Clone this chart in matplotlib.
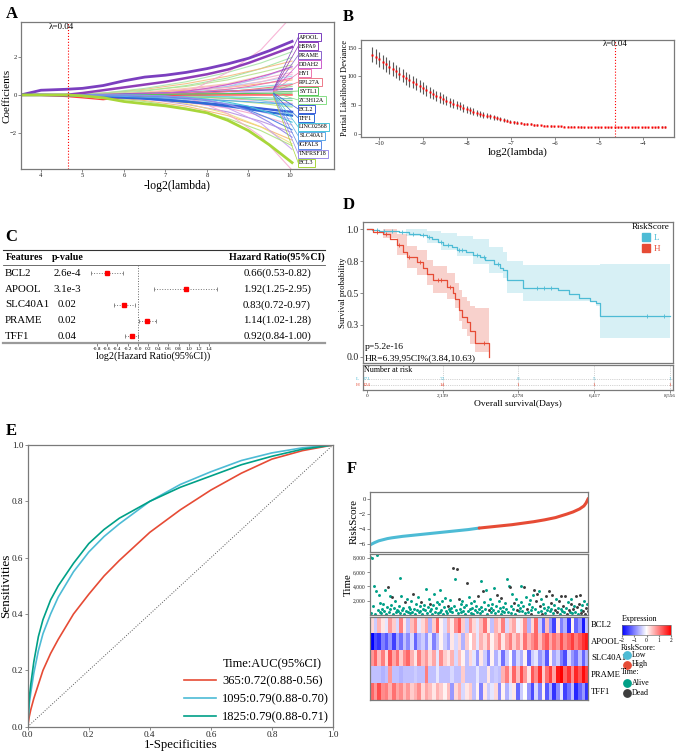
import numpy as np
import matplotlib
matplotlib.use('Agg')
import matplotlib.pyplot as plt
from matplotlib.colors import LinearSegmentedColormap
from matplotlib.patches import Patch
from matplotlib.lines import Line2D
from matplotlib.ticker import FuncFormatter
from matplotlib.transforms import blended_transform_factory

plt.rcParams['font.family'] = ['Liberation Serif', 'DejaVu Serif']

# ---------------- data ----------------
# A: lasso coefficient paths (-log2 lambda knots)
LASSO_KNOTS = [3.52, 4.0, 4.6, 5.0, 5.5, 6.0, 6.5, 7.0, 7.5, 8.0, 8.5, 9.0, 9.5, 10.05]
LASSO_GENES = ['APOOL', 'HSPA9', 'PRAME', 'DDAH2', 'HYI', 'RPL27A', 'SYTL1', 'ZC3H12A',
               'BCL2', 'TFF1', 'LINC02568', 'SLC40A1', 'IGFALS', 'TNFRSF18', 'BCL3']
LASSO_PATHS = [
    [0, 0.25, 0.3, 0.35, 0.5, 0.75, 0.95, 1.05, 1.2, 1.4, 1.65, 1.95, 2.35, 2.85],
    [0, 0, 0, 0.1, 0.25, 0.4, 0.55, 0.7, 0.9, 1.1, 1.35, 1.7, 2.1, 2.55],
    [0, 0, 0, 0, 0.02, 0.05, 0.08, 0.1, 0.13, 0.17, 0.2, 0.23, 0.27, 0.32],
    [0, 0, 0, 0, 0, 0.02, 0.05, 0.1, 0.2, 0.35, 0.55, 0.8, 1.1, 1.5],
    [0, 0, 0, 0, 0, 0, 0.02, 0.05, 0.1, 0.2, 0.3, 0.45, 0.65, 0.9],
    [0, 0, 0, 0, 0, 0, 0, 0.02, 0.05, 0.1, 0.18, 0.28, 0.4, 0.55],
    [0, 0, 0, 0, 0, 0.01, 0.02, 0.03, 0.05, 0.06, 0.07, 0.08, 0.09, 0.1],
    [0, 0, 0, 0, -0.01, -0.03, -0.05, -0.08, -0.1, -0.13, -0.17, -0.21, -0.25, -0.3],
    [0, 0, -0.02, -0.05, -0.1, -0.15, -0.2, -0.28, -0.36, -0.45, -0.55, -0.65, -0.77, -0.9],
    [0, 0, 0, -0.02, -0.05, -0.1, -0.17, -0.25, -0.35, -0.47, -0.6, -0.75, -0.92, -1.1],
    [0, 0, 0, 0, 0, 0, -0.02, -0.06, -0.12, -0.22, -0.38, -0.6, -0.95, -1.45],
    [0, 0, 0, -0.02, -0.05, -0.08, -0.12, -0.16, -0.2, -0.25, -0.3, -0.36, -0.43, -0.5],
    [0, 0, 0, 0, 0, -0.02, -0.05, -0.1, -0.18, -0.3, -0.5, -0.8, -1.25, -1.85],
    [0, 0, 0, 0, 0, 0, -0.02, -0.06, -0.14, -0.28, -0.5, -0.85, -1.45, -2.25],
    [0, 0, 0, -0.05, -0.15, -0.35, -0.47, -0.58, -0.75, -0.95, -1.35, -1.9, -2.65, -3.6],
]
LASSO_DIP = [0, -0.02, -0.08, -0.15, -0.25, -0.12, -0.05, -0.02, 0, 0, 0, 0, 0, 0]
THIN_KNOTS = [3.52, 4.6, 5.5, 6.5, 7.5, 8.5, 9.3, 10.05]
THIN_PATHS = [
    [0, 0, 0.05, 0.2, 0.5, 0.9, 1.4, 2.0],
    [0, 0, 0.1, 0.3, 0.6, 1.0, 1.4, 1.8],
    [0, 0.02, 0.1, 0.25, 0.45, 0.8, 1.2, 1.6],
    [0, 0, 0.05, 0.15, 0.35, 0.6, 1.0, 1.4],
    [0, 0, 0, 0.1, 0.3, 0.55, 0.85, 1.2],
    [0, 0, 0, 0.05, 0.2, 0.45, 0.7, 1.0],
    [0, 0, 0.02, 0.1, 0.25, 0.4, 0.6, 0.8],
    [0, 0, 0, 0.05, 0.15, 0.3, 0.45, 0.6],
    [0, 0, 0, 0, 0.1, 0.2, 0.3, 0.45],
    [0, 0, 0, 0.02, 0.05, 0.1, 0.15, 0.2],
    [0, 0, 0, 0, -0.05, -0.1, -0.15, -0.2],
    [0, 0, 0, -0.05, -0.1, -0.2, -0.3, -0.45],
    [0, 0, 0, -0.05, -0.15, -0.3, -0.45, -0.65],
    [0, 0, -0.05, -0.1, -0.25, -0.45, -0.7, -1.0],
    [0, 0, 0, -0.1, -0.3, -0.55, -0.9, -1.3],
    [0, -0.02, -0.1, -0.2, -0.4, -0.7, -1.1, -1.6],
    [0, 0, -0.05, -0.2, -0.5, -0.9, -1.4, -2.0],
    [0, 0, -0.1, -0.3, -0.6, -1.1, -1.7, -2.4],
    [0, 0, 0, -0.15, -0.45, -1.0, -1.7, -2.6],
    [0, 0, 0, 0, -0.2, -0.7, -1.5, -2.9],
    [0, 0, -0.15, -0.35, -0.7, -1.25, -1.9, -2.7],
    [0, 0, 0.1, 0.35, 0.7, 1.2, 1.7, 2.3],
    [0, 0, 0, 0, 0.15, 0.45, 0.9, 1.5],
    [0, 0, 0, 0.05, 0.2, 0.4, 0.7, 1.1],
    [0, 0, 0, 0, 0, -0.1, -0.3, -0.6],
    [0, 0, 0, 0, 0.1, 1.2, 2.4, 4.2],
    [0, 0, 0, 0, -0.05, -1.0, -2.2, -4.0],
]
LAMBDA_MIN = 0.04

# B: cross-validated partial likelihood deviance
B_DEV = [138, 134, 130, 125.5, 121, 117, 113, 109, 105, 101, 97, 93.5, 90, 86.5, 83, 79.5,
         76, 72.5, 69.5, 66.5, 63.5, 60.5, 58, 55.5, 53, 50.5, 48, 45.5, 43,
         41, 39, 37, 35, 33.5, 32, 30.5, 29, 27.5, 26, 24.5, 23, 21.5,
         20.5, 19.6, 18.8, 18, 17.3, 16.7, 16.1, 15.6, 15.1, 14.7, 14.3, 14, 13.7,
         13.4, 13.2, 13, 12.8, 12.6, 12.4, 12.3, 12.2, 12.1, 12, 11.9, 11.8, 11.8,
         11.7, 11.7, 11.7, 11.7, 11.7, 11.7, 11.7, 11.7, 11.7, 11.7, 11.8, 11.8, 11.9,
         12, 12, 12.1, 12.1, 12.2, 12.3, 12.3]
B_ERR = [13, 13, 12.8, 12.6, 12.4, 12.2, 12, 11.8, 11.6, 11.4, 11.2, 11, 10.8, 10.6, 10.4, 10.2,
         10, 9.7, 9.4, 9.1, 8.8, 8.5, 8.2, 7.9, 7.6, 7.3, 7, 6.7, 6.4,
         6.1, 5.8, 5.5, 5.2, 4.9, 4.6, 4.3, 4.0, 3.7, 3.4, 3.1, 2.9, 2.7,
         2.5, 2.3, 2.1, 1.9, 1.8, 1.7, 1.6, 1.5, 1.4, 1.3, 1.2, 1.1, 1.0,
         1.0, 0.9, 0.9, 0.9, 0.9, 0.9, 0.9, 0.9, 0.9, 0.9, 0.9, 0.9, 0.9,
         0.9, 0.9, 0.9, 0.9, 0.9, 0.9, 0.9, 0.9, 0.9, 0.9, 0.9, 0.9, 0.9,
         0.9, 0.9, 0.9, 0.9, 1.0, 1.0, 1.0]

# C: univariate Cox forest
C_FEATURES = ['BCL2', 'APOOL', 'SLC40A1', 'PRAME', 'TFF1']
C_PVAL = ['2.6e-4', '3.1e-3', '0.02', '0.02', '0.04']
C_HR = [0.66, 1.92, 0.83, 1.14, 0.92]
C_LOW = [0.53, 1.25, 0.72, 1.02, 0.84]
C_HIGH = [0.82, 2.95, 0.97, 1.28, 1.00]

# D: Kaplan-Meier
KM_L_TIME = [0, 150, 350, 600, 900, 1200, 1500, 1700, 1850, 2000, 2150, 2400, 2550, 2800, 3000,
             3200, 3350, 3600, 3750, 3850, 3950, 4400, 5400, 5700, 6000, 6300, 6480, 6580, 8556]
KM_L_SURV = [1.0, 0.995, 0.99, 0.985, 0.975, 0.965, 0.955, 0.94, 0.92, 0.90, 0.88, 0.86, 0.84,
             0.82, 0.80, 0.78, 0.76, 0.73, 0.70, 0.68, 0.60, 0.54, 0.52, 0.49, 0.46, 0.44, 0.42,
             0.32, 0.32]
KM_H_TIME = [0, 190, 470, 660, 850, 1030, 1130, 1410, 1600, 1690, 1880, 2260, 2440, 2490,
             2590, 2680, 2820, 2910, 3060, 3440]
KM_H_SURV = [1.0, 0.98, 0.96, 0.92, 0.88, 0.82, 0.78, 0.74, 0.70, 0.65, 0.60, 0.55, 0.50, 0.45,
             0.37, 0.31, 0.27, 0.20, 0.11, 0.0]
KM_L_BAND_T = [0, 1100, 1700, 2100, 2550, 3000, 3450, 3850, 3950, 4400, 6480, 6580, 8556]
KM_L_LOW = [1.0, 0.95, 0.89, 0.84, 0.79, 0.73, 0.66, 0.62, 0.50, 0.44, 0.40, 0.15, 0.15]
KM_L_HIGH = [1.0, 1.0, 0.99, 0.97, 0.95, 0.92, 0.86, 0.82, 0.75, 0.72, 0.72, 0.73, 0.73]
KM_H_BAND_T = [0, 470, 850, 1130, 1410, 1690, 1880, 2260, 2490, 2590, 2680, 2820, 2910, 3060, 3440]
KM_H_LOW = [1.0, 0.93, 0.80, 0.70, 0.64, 0.56, 0.50, 0.45, 0.38, 0.28, 0.22, 0.16, 0.10, 0.04, 0.04]
KM_H_HIGH = [1.0, 1.0, 0.96, 0.87, 0.84, 0.76, 0.71, 0.66, 0.58, 0.52, 0.47, 0.44, 0.40, 0.38, 0.38]
CENS_L_T = [300, 500, 700, 1000, 1300, 1600, 1750, 2100, 2300, 2600, 2700, 3100, 3300, 3700,
            4800, 5000, 5200, 7900, 8400]
CENS_L_S = [0.995, 0.99, 0.985, 0.975, 0.965, 0.955, 0.94, 0.90, 0.88, 0.84, 0.84, 0.80, 0.78,
            0.73, 0.54, 0.54, 0.54, 0.32, 0.32]
CENS_H_T = [300, 550, 900, 1200, 1500, 2000, 2100, 2350, 3300]
CENS_H_S = [0.98, 0.96, 0.88, 0.78, 0.74, 0.60, 0.60, 0.55, 0.11]
RISK_TIMES = [0, 2139, 4278, 6417, 8556]
AT_RISK_L = [371, 72, 8, 5, 1]
AT_RISK_H = [124, 14, 1, 1, 1]

# E: time-dependent ROC
ROC_FPR = [0, 0.005, 0.01, 0.02, 0.035, 0.05, 0.075, 0.1, 0.15, 0.2, 0.25, 0.3, 0.4, 0.5,
           0.6, 0.7, 0.8, 0.9, 1.0]
ROC_365 = [0, 0.035, 0.06, 0.10, 0.15, 0.20, 0.26, 0.31, 0.40, 0.47, 0.535, 0.59, 0.69, 0.77,
           0.84, 0.90, 0.95, 0.98, 1.0]
ROC_1095 = [0, 0.08, 0.12, 0.19, 0.27, 0.33, 0.40, 0.46, 0.55, 0.62, 0.675, 0.72, 0.80, 0.86,
            0.905, 0.945, 0.972, 0.99, 1.0]
ROC_1825 = [0, 0.10, 0.15, 0.23, 0.32, 0.38, 0.45, 0.50, 0.58, 0.65, 0.70, 0.74, 0.80, 0.85,
            0.89, 0.93, 0.96, 0.985, 1.0]
ROC_LABELS = ['365:0.72(0.88-0.56)', '1095:0.79(0.88-0.70)', '1825:0.79(0.88-0.71)']

# F: risk score distribution, survival status, expression heatmap
RISK_RANK = [0, 0.02, 0.04, 0.06, 0.08, 0.1, 0.15, 0.2, 0.25, 0.3, 0.35, 0.4, 0.45, 0.5,
             0.55, 0.6, 0.65, 0.7, 0.75, 0.8, 0.85, 0.9, 0.93, 0.96, 0.98, 0.99, 1.0]
RISK_SCORE = [-6.1, -5.8, -5.55, -5.4, -5.25, -5.15, -4.95, -4.8, -4.65, -4.5, -4.35, -4.2,
              -4.05, -3.85, -3.7, -3.55, -3.4, -3.2, -3.0, -2.75, -2.45, -2.0, -1.7, -1.3,
              -0.9, -0.5, 0.1]
SURV_TIME = [8100, 300, 7900, 1200, 4100, 150, 3300, 8400, 700, 2800, 450, 1700, 250, 900, 1500,
             600, 3500, 200, 1100, 3900, 400, 2600, 800, 1400, 2500, 100, 950, 1900, 350, 650,
             500, 1300, 5200, 250, 2700, 750, 1000, 150, 1800, 600, 2200, 400, 1150, 300, 850,
             2000, 450, 3000, 900, 200, 1600, 700, 2500, 350, 1200, 550, 1850, 100, 800, 1400,
             650, 3600, 300, 1100, 2300, 500, 1600, 850, 200, 1350, 2900, 400, 950, 1750, 250,
             1500, 400, 3500, 750, 1900, 150, 1050, 2400, 600, 300, 1300, 850, 2100, 500, 1000,
             350, 6600, 1200, 5000, 700, 6400, 250, 2200, 900, 1600, 450, 1900, 600, 1100, 200,
             1400, 4400, 500, 2500, 800, 300, 1700, 1000, 150, 2000, 650, 1250, 400, 2700, 900,
             300, 4800, 1100, 550, 3300, 1800, 800, 3500, 200, 1450, 650, 2300, 400, 950, 1600,
             700, 3700, 250, 1300, 2800, 500, 1900, 950, 150, 2400, 600, 1100, 350, 1650, 800,
             5000, 450, 4100, 3900, 1200, 300, 3000, 800, 1700, 200, 2200, 650, 1400, 500, 1000,
             1800, 4000, 600, 1300, 3900, 250, 2500, 900, 400, 1500, 2100, 700, 150, 1150, 2800,
             3500, 800, 1900, 3000, 400, 3400, 1200, 600, 2300, 150, 1500, 950, 300, 2700, 700,
             1100, 3300, 500, 1700, 900, 2800, 250, 1400, 650, 2200, 350, 1000, 1900, 200, 800,
             2600, 600, 1300, 350, 2700, 1000, 150, 1800, 700, 450, 1500, 2300, 250, 900, 1200,
             400, 2700, 1100, 200, 1600, 2800, 750, 300, 1350, 550, 2000, 150, 950, 1500, 600]
SURV_DEAD = [0, 0, 0, 0, 0, 0, 0, 0, 0, 0, 0, 0, 0, 0, 0,
             0, 0, 0, 0, 1, 0, 0, 0, 0, 1, 0, 0, 0, 0, 0,
             0, 0, 0, 0, 0, 0, 0, 0, 1, 0, 0, 0, 0, 0, 0,
             0, 0, 1, 0, 0, 0, 0, 0, 0, 0, 0, 1, 0, 0, 0,
             0, 0, 0, 0, 0, 0, 1, 0, 0, 0, 0, 0, 0, 0, 0,
             0, 0, 0, 0, 0, 0, 0, 0, 0, 0, 1, 0, 0, 0, 0,
             0, 1, 0, 0, 0, 1, 0, 1, 0, 0, 0, 0, 0, 0, 0,
             0, 1, 0, 0, 0, 0, 0, 0, 0, 0, 0, 0, 0, 1, 0,
             0, 0, 0, 0, 1, 0, 0, 0, 0, 0, 1, 0, 0, 0, 0,
             0, 0, 0, 0, 1, 0, 0, 0, 0, 1, 0, 0, 0, 0, 0,
             0, 0, 0, 1, 0, 0, 0, 0, 1, 0, 0, 1, 0, 0, 0,
             0, 0, 0, 0, 1, 0, 0, 1, 0, 0, 0, 0, 1, 0, 0,
             1, 0, 1, 1, 0, 0, 1, 0, 0, 1, 0, 0, 0, 1, 0,
             0, 1, 0, 1, 0, 1, 0, 0, 1, 0, 1, 0, 1, 0, 0,
             1, 0, 1, 0, 1, 0, 1, 0, 1, 0, 1, 0, 0, 1, 0,
             0, 1, 1, 0, 1, 1, 0, 1, 0, 1, 0, 1, 1, 0, 1]
HEAT_GENES = ['BCL2', 'APOOL', 'SLC40A1', 'PRAME', 'TFF1']
EXPR_BCL2 = [0.3, -0.4, 0.6, 0.2, -0.2, 0.8, 0.4, -0.3, 1.0, 0.2,
             -0.5, 0.5, 0.9, -0.2, 0.3, 0.7, -0.6, 0.4, 1.2, 0.1,
             -0.3, 0.6, 0.2, 0.9, 1.3, 0.4, -0.4, 0.8, 0.3, -0.2,
             0.5, 1.1, 0.2, -0.5, 0.6, 0.3, 1.0, -0.3, 0.4, 0.7,
             -0.1, 0.2, 0.9, -0.6, 0.3, 1.2, -0.4, -1.2, 0.5, -0.8,
             -1.5, 0.2, -1.0, -0.6, -1.6, 0.1, -1.2, -0.8, -1.8, -0.5]
EXPR_APOOL = [-2.0, -1.4, -1.6, -1.0, -1.3, -0.8, -1.5, -0.7, -1.1, -0.5,
              -0.9, -0.3, -1.2, -0.6, -0.4, -0.8, -0.2, -1.0, -0.5, 0.1,
              -0.4, -0.7, 0.2, -0.3, 0.3, -0.6, 0.4, 0.0, 0.5, -0.2,
              0.6, 0.3, 0.8, 0.1, 0.5, 0.9, 0.2, 0.7, 1.0, 0.4,
              0.8, 0.3, 1.1, 0.6, 0.9, 1.2, 0.5, 1.0, 1.3, 0.7,
              1.1, 0.8, 1.4, 0.9, 1.2, 1.5, 1.0, 1.3, 1.6, 1.8]
EXPR_SLC40A1 = [0.8, 1.2, 0.5, 1.0, 0.3, 1.3, 0.7, 1.1, 0.4, 0.9,
                1.2, 0.6, 0.2, 1.0, 0.5, 0.8, 0.3, 0.7, -0.2, 0.9,
                0.4, 0.2, 0.6, -0.3, 0.5, 0.1, -0.5, 0.3, -0.2, -0.8,
                0.2, -0.4, -1.0, 0.1, -0.6, -0.2, -1.1, -0.4, 0.0, -0.9,
                -0.3, -0.6, 0.1, -1.2, -0.4, -0.2, -0.8, -0.5, -1.3, 0.1,
                -0.7, -0.4, -1.0, -1.4, -0.3, -0.8, -1.1, -0.5, -1.2, -0.6]
EXPR_PRAME = [-0.5, -0.5, -0.5, -0.6, -0.5, 0.8, -0.5, -0.5, -0.6, -0.5,
              -0.5, -0.5, -0.4, -0.5, -0.5, 1.0, -0.5, -0.5, -0.2, -0.5,
              -0.5, -0.5, -0.3, -0.5, -0.5, 0.4, -0.5, -0.5, -0.5, -0.2,
              -0.5, -0.5, 0.2, -0.5, -0.4, -0.5, 0.6, 1.0, 0.3, 1.2,
              0.5, 1.4, 0.8, 0.2, 1.3, 0.9, 1.6, 0.4, 1.1, 1.5,
              0.7, 1.8, 2.0, 1.2, 1.6, 0.9, 1.7, 1.3, 1.9, 1.5]
EXPR_TFF1 = [1.2, 0.8, 1.4, 0.9, 1.0, 0.6, 1.1, 0.7, 0.9, 0.5,
             0.8, 0.4, 0.6, 0.9, 0.3, 0.7, 0.5, 0.2, 0.6, 0.4,
             0.1, 0.5, -0.8, 0.3, 0.6, -0.3, 0.2, 0.4, -0.5, 0.1,
             -1.0, 0.2, -0.4, -0.2, 0.3, -0.9, 0.1, -0.6, -0.2, 0.2,
             -1.2, -0.4, 0.0, -0.8, -1.4, -0.3, -1.0, 0.1, -1.3, -0.6,
             -1.6, -0.9, -0.2, -1.5, -1.1, -0.5, -1.7, -1.2, -0.8, -1.6]

# ---------------- styles ----------------
CYAN, RED, TEAL, DARK = '#4DBBD5', '#E64B35', '#00A087', '#3C3C3C'
FRAME = '#7a7a7a'
GENE_COLORS = ['#7B3FBF', '#8E3DB8', '#8A63CC', '#CC5FCC', '#EE77B0', '#EE7A8A', '#55C85A',
               '#86DE86', '#3D5BD9', '#2E6BD6', '#48C4DB', '#5BA8E8', '#5B8AE6', '#9A8CEB', '#A8D63A']
GENE_WIDTHS = [2.0, 1.8, 1.2, 0.8, 0.8, 0.8, 0.8, 0.8, 1.6, 1.6, 0.8, 0.8, 0.8, 0.8, 2.0]
THIN_COLORS = ['#9ae59a', '#f5b77a', '#b5e08a', '#f7c6a3', '#f4a6c8', '#9ccfee', '#f7b36b',
               '#7fd9d9', '#8fdc8f', '#c6a0e8', '#66c2b5', '#f29ac0', '#b0e57c', '#7ec8e3',
               '#c2b0f0', '#f5a3c7', '#b48be0', '#f6b26b', '#f0e07a', '#c79cf0', '#a8e07a',
               '#a4e3a4', '#9ec5f0', '#f9b4d0', '#76d7ea', '#f7a8cf', '#f7a8cf']

W, H = 677, 752
fig = plt.figure(figsize=(W / 100, H / 100), dpi=100)


def px_axes(l, t, r, b):
    return fig.add_axes([l / W, 1 - b / H, (r - l) / W, (b - t) / H])


def frame(ax, size=6):
    for s in ax.spines.values():
        s.set_color(FRAME)
        s.set_linewidth(0.9)
    ax.tick_params(color=FRAME, labelcolor='#222222', length=2, width=0.6, pad=1, labelsize=size)


def ylab(ax, text, size, xpx, left, width):
    # y label centred at a given pixel column
    ax.set_ylabel(text, fontsize=size)
    ax.yaxis.set_label_coords((xpx - left) / width, 0.5)
    ax.yaxis.label.set_verticalalignment('center')


def letter(x, y, s):
    fig.text(x / W, 1 - y / H, s, fontsize=12, fontweight='bold', va='center', ha='left')


comma = FuncFormatter(lambda v, p: f'{int(round(v)):,}')

# ---------------- A ----------------
axA = px_axes(21, 22, 334, 169)
frame(axA, 4.8)
for vals, col in zip(THIN_PATHS, THIN_COLORS):
    axA.plot(THIN_KNOTS, vals, color=col, lw=0.8, alpha=0.85)
axA.plot(LASSO_KNOTS, LASSO_DIP, color='#FF4040', lw=1.0)
for vals, col, lw in zip(LASSO_PATHS, GENE_COLORS, GENE_WIDTHS):
    axA.plot(LASSO_KNOTS, vals, color=col, lw=lw)
label_y = np.linspace(3.08, -3.62, len(LASSO_GENES))
anchor_y = np.linspace(0.3, -0.05, len(LASSO_GENES))
for name, col, ly, ay in zip(LASSO_GENES, GENE_COLORS, label_y, anchor_y):
    axA.plot([9.6, 10.2], [ay, ly], color=col, lw=0.5, clip_on=False)
    axA.text(10.22, ly, name, fontsize=4.3, va='center', ha='left', clip_on=False,
             bbox=dict(boxstyle='square,pad=0.25', fc='white', ec=col, lw=0.7))
axA.axvline(-np.log2(LAMBDA_MIN), color='red', ls=':', lw=0.8)
axA.text(4.5, 3.6, f'λ={LAMBDA_MIN}', fontsize=6.5, ha='center', va='center')
axA.set_xlim(3.52, 11.06)
axA.set_ylim(-3.94, 3.88)
axA.set_xticks([4, 5, 6, 7, 8, 9, 10])
axA.set_yticks([-2, 0, 2])
axA.set_xlabel('-log2(lambda)', fontsize=8.5, labelpad=1)
ylab(axA, 'Coefficients', 8, 7.5, 21, 313)
letter(6, 14, 'A')

# ---------------- B ----------------
axB = px_axes(361, 40, 674, 137)
frame(axB, 4.5)
loglam = np.linspace(-10.15, -3.5, len(B_DEV))
dev = np.array(B_DEV)
err = np.array(B_ERR)
axB.vlines(loglam, dev - err, dev + err, color='#5a5a5a', lw=0.8)
axB.plot(loglam, dev, 's', color='red', ms=1.6, mec='none')
axB.axvline(np.log2(LAMBDA_MIN), color='red', ls=':', lw=0.8)
axB.text(np.log2(LAMBDA_MIN), 157, f'λ={LAMBDA_MIN}', fontsize=6.3, ha='center', va='center')
axB.set_xlim(-10.41, -3.30)
axB.set_ylim(-5.2, 163.4)
axB.set_xticks([-10, -9, -8, -7, -6, -5, -4])
axB.set_yticks([0, 50, 100, 150])
axB.set_xlabel('log2(lambda)', fontsize=8, labelpad=1)
ylab(axB, 'Partial Likelihood Deviance', 6, 345, 361, 313)
letter(343, 17, 'B')

# ---------------- C ----------------
axC = px_axes(0, 245, 340, 343.3)
axC.set_xlim((0 - 137.7) / 51, (340 - 137.7) / 51)
axC.set_ylim(4.444, -1.797)
for s in axC.spines.values():
    s.set_visible(False)
axC.set_yticks([])
trC = blended_transform_factory(axC.transAxes, axC.transData)
fsC, fsH = 7.8, 7.2
axC.text(6 / 340, -1, 'Features', transform=trC, fontsize=fsH, fontweight='bold', va='center')
axC.text(52 / 340, -1, 'p-value', transform=trC, fontsize=fsH, fontweight='bold', va='center')
axC.text(325 / 340, -1, 'Hazard Ratio(95%CI)', transform=trC, fontsize=fsH,
         fontweight='bold', va='center', ha='right')
axC.plot([3 / 340, 325 / 340], [-1.48, -1.48], transform=trC, color='#333333', lw=0.8, clip_on=False)
axC.plot([3 / 340, 325 / 340], [-0.53, -0.53], transform=trC, color='#555555', lw=0.6, clip_on=False)
axC.plot([3 / 340, 325 / 340], [4.444, 4.444], transform=trC, color='#9a9a9a', lw=1.6, clip_on=False)
axC.plot([0, 0], [-0.53, 4.44], color='#666666', ls=':', lw=0.7)
for i, (f, p, hr, lo, hi) in enumerate(zip(C_FEATURES, C_PVAL, C_HR, C_LOW, C_HIGH)):
    axC.text(5 / 340, i, f, transform=trC, fontsize=fsC, va='center')
    axC.text(67 / 340, i, p, transform=trC, fontsize=fsC, va='center', ha='center')
    axC.text(277 / 340, i, f'{hr:.2f}({lo:.2f}-{hi:.2f})', transform=trC, fontsize=fsC,
             va='center', ha='center')
    axC.plot([np.log2(lo), np.log2(hi)], [i, i], color='#777777', ls=':', lw=0.7)
    axC.plot([np.log2(lo), np.log2(hi)], [i, i], '|', color='#777777', ms=3, mew=0.6)
    axC.plot(np.log2(hr), i, 's', color='red', ms=3)
axC.set_xticks(np.round(np.arange(-0.8, 1.41, 0.2), 1))
axC.xaxis.set_major_formatter(FuncFormatter(lambda v, p: f'{v:.1f}'))
axC.tick_params(axis='x', length=2, width=0.5, color='#555555', labelsize=3.8, pad=1)
axC.set_xlabel('log2(Hazard Ratio(95%CI))', fontsize=7.3)
axC.xaxis.set_label_coords(0.45, -0.08)
letter(5, 237, 'C')

# ---------------- D ----------------
axD = px_axes(363, 222, 673, 363)
frame(axD, 7)
axD.fill_between(KM_L_BAND_T, KM_L_LOW, KM_L_HIGH, step='post', color=CYAN, alpha=0.22, lw=0)
axD.fill_between(KM_H_BAND_T, KM_H_LOW, KM_H_HIGH, step='post', color=RED, alpha=0.25, lw=0)
axD.step(KM_L_TIME, KM_L_SURV, where='post', color=CYAN, lw=0.9)
axD.step(KM_H_TIME, KM_H_SURV, where='post', color=RED, lw=0.9)
axD.plot(CENS_L_T, CENS_L_S, '+', color=CYAN, ms=3, mew=0.6)
axD.plot(CENS_H_T, CENS_H_S, '+', color=RED, ms=3, mew=0.6)
axD.set_xlim(-104, 8640)
axD.set_ylim(-0.049, 1.057)
axD.set_xticks([])
axD.set_yticks([0, 0.25, 0.5, 0.75, 1.0])
axD.set_yticklabels(['0.0', '0.3', '0.5', '0.8', '1.0'])
ylab(axD, 'Survival probability', 6.2, 343.3, 363, 310)
axD.text(0.005, 0.116, 'p=5.2e-16', transform=axD.transAxes, fontsize=6.8, va='center')
axD.text(0.005, 0.035, 'HR=6.39,95CI%(3.84,10.63)', transform=axD.transAxes, fontsize=6.8,
         va='center')
axD.legend([Patch(color=CYAN), Patch(color=RED)], ['L', 'H'], title='RiskScore',
           loc='upper right', bbox_to_anchor=(1.01, 1.035), frameon=False, fontsize=6.6,
           title_fontsize=6.6, handlelength=0.9, handleheight=0.9, handletextpad=0.4,
           labelspacing=0.2, labelcolor=[CYAN, RED], borderpad=0.2)

axR = px_axes(363, 365, 673, 390)
frame(axR, 3.8)
axR.set_xlim(-104, 8640)
axR.set_ylim(0, 1)
axR.set_yticks([])
axR.set_xticks(RISK_TIMES)
axR.xaxis.set_major_formatter(comma)
axR.tick_params(axis='x', labelsize=3.8, length=2, pad=1)
for t in RISK_TIMES[1:]:
    axR.axvline(t, color='#aaaaaa', ls=':', lw=0.5)
for yy, nums, col, lab in [(0.44, AT_RISK_L, CYAN, 'L'), (0.2, AT_RISK_H, RED, 'H')]:
    axR.axhline(yy, color='#aaaaaa', ls=':', lw=0.5)
    for t, n in zip(RISK_TIMES, nums):
        axR.text(t, yy, str(n), color=col, fontsize=3.8, ha='center', va='center')
    axR.text(-0.012, yy, lab, transform=axR.transAxes, color=col, fontsize=3.8,
             ha='right', va='center')
axR.text(0.003, 0.8, 'Number at risk', transform=axR.transAxes, fontsize=5.8, va='center')
axR.set_xlabel('Overall survival(Days)', fontsize=6.8, labelpad=1)
letter(343, 205, 'D')

# ---------------- E ----------------
axE = px_axes(27.7, 445, 333, 726.7)
frame(axE, 6.6)
axE.tick_params(length=2.5, pad=0.6)
axE.plot([0, 1], [0, 1], color='#555555', ls=':', lw=0.7)
h1, = axE.plot(ROC_FPR, ROC_365, color=RED, lw=1.2)
h2, = axE.plot(ROC_FPR, ROC_1095, color=CYAN, lw=1.2)
h3, = axE.plot(ROC_FPR, ROC_1825, color=TEAL, lw=1.2)
blank = Line2D([], [], color='none')
axE.legend([blank, h1, h2, h3], ['Time:AUC(95%CI)'] + ROC_LABELS, loc='lower right',
           frameon=False, fontsize=9, handlelength=2.6, handletextpad=0.5,
           labelspacing=0.45, borderaxespad=0.1, borderpad=0.2)
axE.set_xlim(0, 1)
axE.set_ylim(0, 1)
ticks = [0, 0.2, 0.4, 0.6, 0.8, 1.0]
axE.set_xticks(ticks)
axE.set_yticks(ticks)
axE.xaxis.set_major_formatter(FuncFormatter(lambda v, p: f'{v:.1f}'))
axE.yaxis.set_major_formatter(FuncFormatter(lambda v, p: f'{v:.1f}'))
axE.set_xlabel('1-Specificities', fontsize=9.2)
axE.xaxis.set_label_coords(0.5, -12.5 / 281.7)
axE.xaxis.label.set_verticalalignment('top')
ylab(axE, 'Sensitivities', 9.5, 6.0, 27.7, 305.3)
letter(6, 431, 'E')

# ---------------- F ----------------
rank = np.array(RISK_RANK)
score = np.array(RISK_SCORE)
axF1 = px_axes(370, 491.7, 588.3, 551.7)
frame(axF1, 4.8)
low = rank <= 0.5
high = rank >= 0.5
axF1.plot(rank[low], score[low], color=CYAN, lw=2.2, solid_capstyle='round')
axF1.plot(rank[high], score[high], color=RED, lw=2.2, solid_capstyle='round')
axF1.set_xlim(0, 1)
axF1.set_ylim(-7, 1)
axF1.set_xticks([])
axF1.set_yticks([0, -2, -4, -6])
ylab(axF1, 'RiskScore', 7.8, 354, 370, 218.3)

axF2 = px_axes(370, 554.3, 588.3, 615)
frame(axF2, 4)
st = np.array(SURV_TIME)
dead = np.array(SURV_DEAD) == 1
pos = (np.arange(len(st)) + 0.5) / len(st)
axF2.scatter(pos[~dead], st[~dead], s=4.5, color=TEAL, lw=0)
axF2.scatter(pos[dead], st[dead], s=4.5, color=DARK, lw=0)
axF2.set_xlim(0, 1)
axF2.set_ylim(0, 8470)
axF2.set_xticks([])
axF2.set_yticks([2000, 4000, 6000, 8000])
axF2.yaxis.set_major_formatter(comma)
ylab(axF2, 'Time', 7.8, 348, 370, 218.3)

axF3 = px_axes(370, 616.7, 588.3, 700)
frame(axF3)
rows = [EXPR_BCL2, EXPR_APOOL, EXPR_SLC40A1, EXPR_PRAME, EXPR_TFF1]
n = min(len(r) for r in rows)
mat = np.array([r[:n] for r in rows])
cmap = LinearSegmentedColormap.from_list('bwr2', ['#0000FF', '#FFFFFF', '#FF0000'])
im = axF3.imshow(mat, aspect='auto', cmap=cmap, vmin=-2, vmax=2, extent=(0, 1, 5, 0),
                 interpolation='nearest')
axF3.set_xticks([])
axF3.set_yticks([])
trF = blended_transform_factory(axF3.transAxes, axF3.transData)
for i, g in enumerate(HEAT_GENES):
    axF3.text(1.012, i + 0.5, g, transform=trF, fontsize=6.2, va='center', ha='left')

cax = px_axes(622, 625, 671, 635)
cb = fig.colorbar(im, cax=cax, orientation='horizontal', ticks=[-2, -1, 0, 1, 2])
cb.outline.set_edgecolor(FRAME)
cb.outline.set_linewidth(0.5)
cax.tick_params(labelsize=4, length=1.5, pad=0.5, color=FRAME)
fig.text(622 / W, 1 - 619 / H, 'Expression', fontsize=5.8, va='center', ha='left')

axLeg = px_axes(615, 643, 677, 700)
axLeg.set_xlim(615, 677)
axLeg.set_ylim(700, 643)
axLeg.axis('off')
axLeg.text(621, 647.5, 'RiskScore:', fontsize=5.8, va='center')
axLeg.text(621, 672.5, 'Time:', fontsize=5.8, va='center')
for yy, col, lab in [(655, CYAN, 'Low'), (664.5, RED, 'High'),
                     (682.7, TEAL, 'Alive'), (692.7, DARK, 'Dead')]:
    axLeg.plot(626.5, yy, 'o', color=col, ms=5.3, clip_on=False)
    axLeg.text(631.5, yy, lab, fontsize=5.8, va='center')
letter(347, 469, 'F')

fig.savefig('out.png', dpi=100)
